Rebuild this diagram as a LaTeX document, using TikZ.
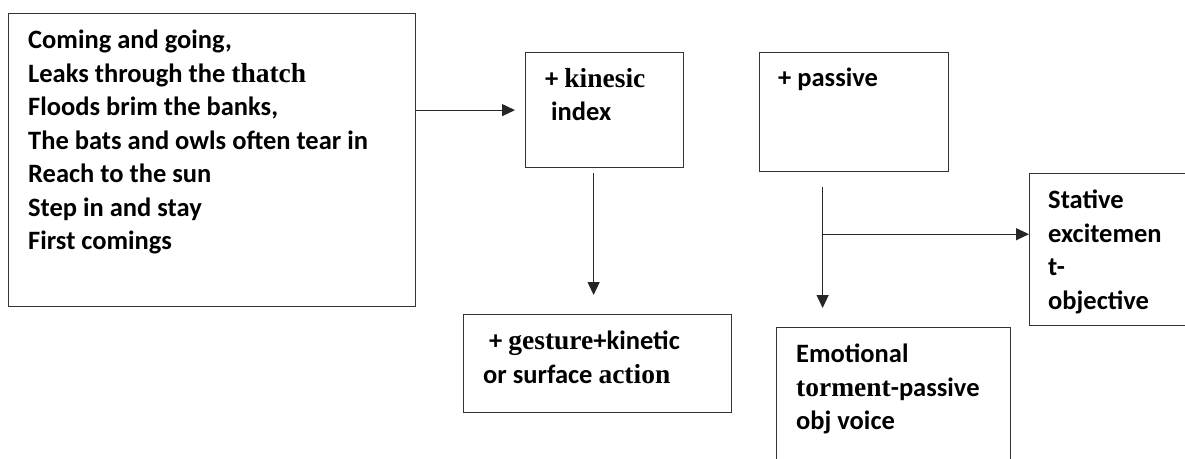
\documentclass[tikz,border=0pt]{standalone}
\usepackage{fontspec}
\setmainfont{Carlito}
\newfontfamily\tms{Liberation Serif}
\usetikzlibrary{positioning,arrows.meta}

\tikzset{
  box/.style={draw=black!80, line width=1.2pt, anchor=north west, inner sep=0pt},
  txt/.style={inner sep=0pt, align=left,
    font=\fontsize{26.5}{33.5}\selectfont\bfseries},
  arr/.style={draw=black!85, line width=1.2pt, -{Triangle[length=13pt,width=12pt]}},
}
\newcommand{\tw}[1]{{\tms\bfseries\fontsize{27.5}{33.5}\selectfont #1}}

\begin{document}
\begin{tikzpicture}[x=1pt,y=-1pt]
    \useasboundingbox (0,0) rectangle (1185,458);
    \clip (0,0) rectangle (1185,458);
    % boxes
    \node[box, minimum width=407pt, minimum height=293pt] (src) at (8,13) {};
    \node[box, minimum width=158pt, minimum height=115pt] (kin) at (525,52) {};
    \node[box, minimum width=189pt, minimum height=119pt] (pas) at (759,52) {};
    \node[box, minimum width=268pt, minimum height=98pt] (gest) at (463,314) {};
    \node[box, minimum width=160pt, minimum height=152pt] (sta) at (1029,173) {};
    \node[box, minimum width=234pt, minimum height=140pt] (emo) at (776,327) {};
    % texts
    \node[txt, below right=17pt and 20pt of src.north west] (srctxt) {%
      Coming and going,\\
      Leaks through the \tw{thatch}\\
      Floods brim the banks,\\
      The bats and owls often tear in\\
      Reach to the sun\\
      Step in and stay\\
      First comings};
    \node[txt, below right=16pt and 20pt of kin.north west] (kintxt) {%
      + \tw{kinesic}\\
      \ index};
    \node[txt, below right=16pt and 19pt of pas.north west] (pastxt) {+ passive};
    \node[txt, below right=17pt and 20pt of gest.north west] (gesttxt) {%
      \ + \tw{gesture}+kinetic\\
      or surface \tw{action}};
    \node[txt, below right=17pt and 19pt of sta.north west] (statxt) {%
      Stative\\
      excitemen\\
      t-\\
      objective};
    \node[txt, below right=17pt and 20pt of emo.north west] (emotxt) {%
      Emotional\\
      \tw{torment}-passive\\
      obj voice};
    % connectors
    \draw[arr, shorten >=10pt] (src.east |- kin.west) -- (kin.west);
    \coordinate (kinout) at ([xshift=-11pt,yshift=-5pt]kin.south);
    \draw[arr, shorten >=19pt] (kinout) -- (kinout |- gest.north);
    \coordinate (pasout) at ([xshift=-31.5pt,yshift=-15pt]pas.south);
    \draw[arr, shorten >=19pt] (pasout) -- (pasout |- emo.north);
    \coordinate (fork) at ([yshift=-47pt]pasout);
    \draw[arr] (fork) -- (fork -| sta.west);
\end{tikzpicture}
\end{document}
